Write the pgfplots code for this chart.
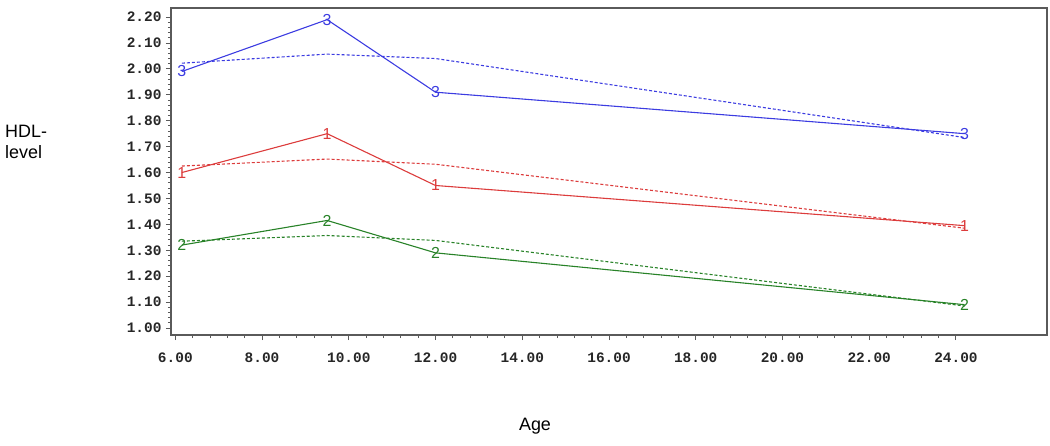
\documentclass[border=0pt]{standalone}
\usepackage{pgfplots}
\pgfplotsset{compat=1.18}
\usepackage{fontspec}
\setmainfont{Liberation Sans}
\newfontfamily\tickfont{Liberation Mono}
\usetikzlibrary{calc}
\definecolor{cblue}{RGB}{60,60,225}
\definecolor{cred}{RGB}{220,60,60}
\definecolor{cgreen}{RGB}{40,130,40}
\definecolor{frame}{RGB}{90,90,90}
\begin{document}
\begin{tikzpicture}[x=1bp,y=1bp]
\begin{axis}[name=ax,
  scale only axis, width=876bp, height=327bp,
  xmin=5.9, xmax=26.1, ymin=0.973, ymax=2.235,
  axis line style={frame, line width=1.2bp},
  xtick={6,8,...,24}, ytick={1.0,1.1,...,2.21},
  minor x tick num=4, minor y tick num=4,
  tick align=outside, tick pos=left,
  major tick length=5bp, minor tick length=3bp,
  tick style={frame, line width=0.9bp},
  xticklabel={\pgfmathprintnumber[fixed,fixed zerofill,precision=2]{\tick}},
  yticklabel={\pgfmathprintnumber[fixed,fixed zerofill,precision=2]{\tick}},
  /pgf/number format/assume math mode=true,
  ticklabel style={font=\tickfont\bfseries\fontsize{14.5}{14.5}\selectfont, text=black!85},
  xticklabel style={yshift=-9bp},
  yticklabel style={xshift=-1bp},
  every axis plot/.append style={line width=1.1bp},
]
% group 3 (blue)
\addplot[cblue, mark=text, text mark={\fontsize{16}{16}\selectfont\textcolor{cblue}{3}}] coordinates {(6.15,1.99) (9.5,2.19) (12.0,1.91) (24.2,1.75)};
\addplot[cblue, dashed, dash pattern=on 3bp off 2bp] coordinates {(6.15,2.022) (9.5,2.057) (12.0,2.04) (24.2,1.735)};
% group 1 (red)
\addplot[cred, mark=text, text mark={\fontsize{16}{16}\selectfont\textcolor{cred}{1}}] coordinates {(6.15,1.60) (9.5,1.75) (12.0,1.55) (24.2,1.395)};
\addplot[cred, dashed, dash pattern=on 3bp off 2bp] coordinates {(6.15,1.625) (9.5,1.652) (12.0,1.632) (24.2,1.385)};
% group 2 (green)
\addplot[cgreen, mark=text, text mark={\fontsize{16}{16}\selectfont\textcolor{cgreen}{2}}] coordinates {(6.15,1.32) (9.5,1.415) (12.0,1.29) (24.2,1.09)};
\addplot[cgreen, dashed, dash pattern=on 3bp off 2bp] coordinates {(6.15,1.335) (9.5,1.357) (12.0,1.338) (24.2,1.085)};
\end{axis}
\path[use as bounding box] ($(ax.south west)+(-171bp,-111bp)$) rectangle ($(ax.north east)+(3bp,8bp)$);
\node[anchor=north west, align=left, font=\fontsize{18}{21}\selectfont, inner sep=0pt] at ($(ax.north west)+(-166bp,-117bp)$) {HDL-\\level};
\node[anchor=center, font=\fontsize{18}{21}\selectfont, inner sep=0pt] at ($(ax.south west)+(364bp,-91bp)$) {Age};
\end{tikzpicture}
\end{document}
